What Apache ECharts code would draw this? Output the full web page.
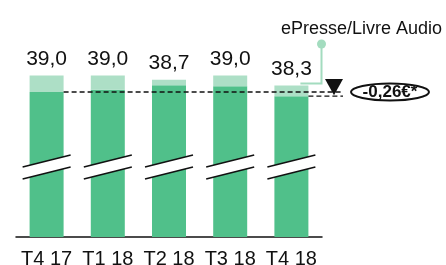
<!DOCTYPE html>
<html>
<head>
<meta charset="utf-8">
<script src="https://cdn.jsdelivr.net/npm/echarts@6/dist/echarts.min.js"></script>
<style>
  html, body { margin: 0; padding: 0; background: #fff; }
  #chart { width: 446px; height: 265px; }
</style>
</head>
<body>
<div id="chart"></div>
<script>
// quarters
const categories = ['T4 17', 'T1 18', 'T2 18', 'T3 18', 'T4 18'];
// total value shown above each bar
const totals = [39.0, 39.0, 38.7, 39.0, 38.3];
// value without ePresse/Livre Audio (dark part)
const baseValues = [37.85, 38.0, 38.33, 38.26, 37.56];
const legendText = 'ePresse/Livre Audio';
const deltaText = '-0,26€*';
// where the axis break is drawn
const breakValue = 32.6;

const darkGreen = '#50c08a';
const lightGreen = '#addfc6';
const fontFamily = '"Liberation Sans", Arial, Helvetica, sans-serif';

const chart = echarts.init(document.getElementById('chart'));

function fmt (v) {
  return v.toFixed(1).replace('.', ',');
}

const option = {
  animation: false,
  backgroundColor: '#fff',
  grid: {
    left: 16,
    width: 306,
    top: 37,
    bottom: 28,
    outerBoundsMode: 'none'
  },
  xAxis: {
    type: 'category',
    data: categories,
    axisTick: { show: false },
    axisLine: { lineStyle: { color: '#111', width: 1.5 } },
    axisLabel: {
      color: '#111',
      fontSize: 20,
      fontFamily: fontFamily,
      margin: 12,
      interval: 0
    }
  },
  yAxis: {
    type: 'value',
    min: 27.7,
    max: 41.7,
    show: false,
    splitLine: { show: false }
  },
  series: [
    {
      type: 'bar',
      stack: 'total',
      barWidth: 34,
      itemStyle: { color: darkGreen },
      data: baseValues
    },
    {
      type: 'bar',
      stack: 'total',
      barWidth: 34,
      itemStyle: { color: lightGreen },
      label: {
        show: true,
        position: 'top',
        distance: 6,
        color: '#111',
        fontSize: 21,
        fontFamily: fontFamily,
        formatter: p => fmt(totals[p.dataIndex])
      },
      data: totals.map((t, i) => +(t - baseValues[i]).toFixed(2))
    }
  ]
};

chart.setOption(option);

// annotations placed through the chart's own scales
const px = (i, v) => chart.convertToPixel({ seriesIndex: 0 }, [i, v]);
const half = 17;
const last = categories.length - 1;
const lineEnd = 343;
const graphics = [];

// axis break marks
categories.forEach((c, i) => {
  const [cx, yc] = px(i, breakValue);
  graphics.push({
    type: 'polygon', z: 100,
    shape: { points: [[cx - 24, yc], [cx + 24, yc - 12], [cx + 24, yc], [cx - 24, yc + 12]] },
    style: { fill: '#fff' }
  });
  graphics.push({
    type: 'line', z: 101,
    shape: { x1: cx - 24, y1: yc, x2: cx + 24, y2: yc - 12 },
    style: { stroke: '#111', lineWidth: 1.5 }
  });
  graphics.push({
    type: 'line', z: 101,
    shape: { x1: cx - 24, y1: yc + 12, x2: cx + 24, y2: yc },
    style: { stroke: '#111', lineWidth: 1.5 }
  });
});

// dashed reference lines
const [x0, y1] = px(0, baseValues[0]);
const [x4, y2] = px(last, baseValues[last]);
const [, yTop4] = px(last, totals[last]);
graphics.push({
  type: 'line', z: 100,
  shape: { x1: x0 + half, y1: y1, x2: lineEnd, y2: y1 },
  style: { stroke: '#111', lineWidth: 1.3, lineDash: [5, 3] }
});
graphics.push({
  type: 'line', z: 100,
  shape: { x1: x4 + half, y1: y2, x2: lineEnd, y2: y2 },
  style: { stroke: '#111', lineWidth: 1.3, lineDash: [5, 3] }
});

// down arrow
graphics.push({
  type: 'polygon', z: 102,
  shape: { points: [[325, y1 - 13], [343, y1 - 13], [334, y2 - 1]] },
  style: { fill: '#111' }
});

// connector from series label to last bar
const dotX = 321.5;
graphics.push({
  type: 'polyline', z: 99,
  shape: { points: [[dotX, 44], [dotX, yTop4 - 2], [x4 + half - 8, yTop4 - 2]] },
  style: { stroke: '#a3dcbf', lineWidth: 2, fill: null }
});
graphics.push({
  type: 'circle', z: 99,
  shape: { cx: dotX, cy: 44, r: 4.5 },
  style: { fill: '#a3dcbf' }
});
graphics.push({
  type: 'text', z: 100,
  x: 281, y: 29,
  style: {
    text: legendText,
    fill: '#111',
    font: '18px ' + fontFamily,
    verticalAlign: 'middle',
    align: 'left'
  }
});

// delta badge
graphics.push({
  type: 'ellipse', z: 100,
  shape: { cx: 390, cy: 92, rx: 39, ry: 8.5 },
  style: { fill: '#fff', stroke: '#111', lineWidth: 2 }
});
graphics.push({
  type: 'text', z: 101,
  x: 390, y: 92,
  style: {
    text: deltaText,
    fill: '#111',
    font: 'bold 17px ' + fontFamily,
    align: 'center',
    verticalAlign: 'middle'
  }
});

chart.setOption({ graphic: graphics });
</script>
</body>
</html>
